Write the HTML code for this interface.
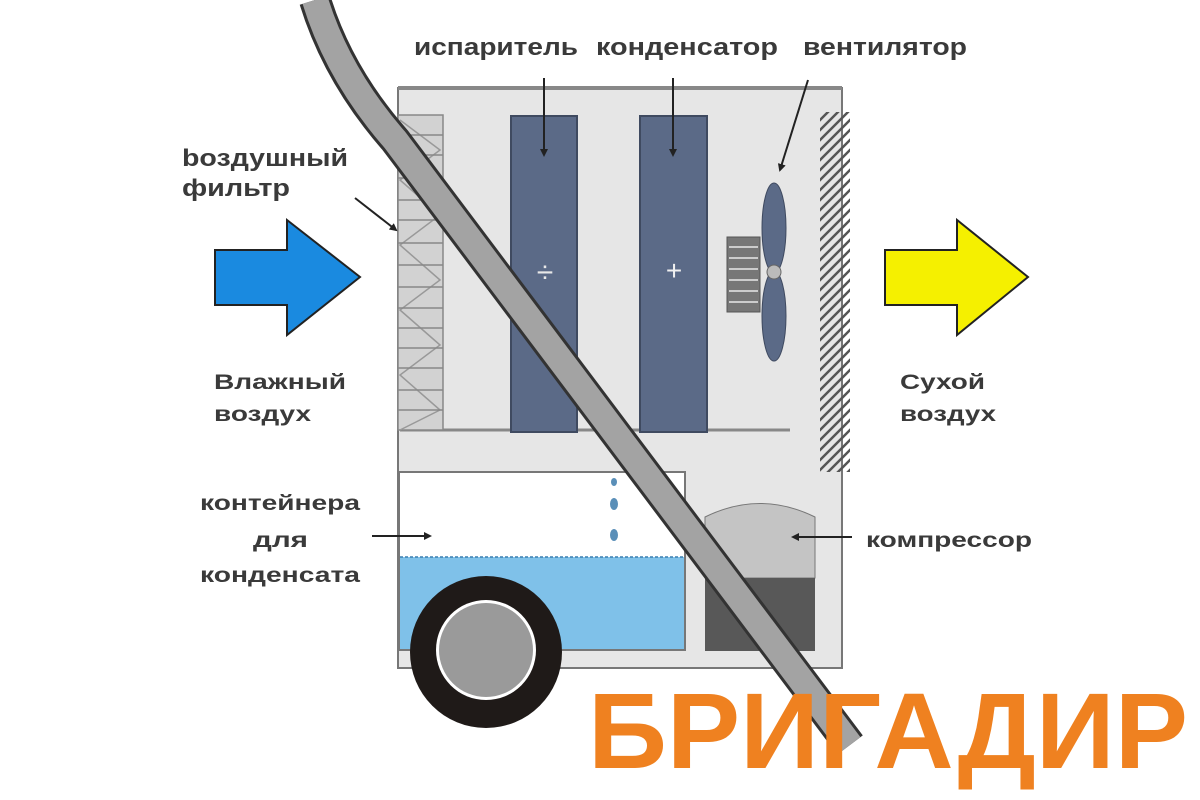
<!DOCTYPE html>
<html><head><meta charset="utf-8"><style>html,body{margin:0;padding:0;background:#fff}svg{display:block}</style></head>
<body>
<svg width="1200" height="800" viewBox="0 0 1200 800" xmlns="http://www.w3.org/2000/svg">
<defs>
<pattern id="hatch" width="10" height="10" patternUnits="userSpaceOnUse">
<path d="M0,10 L10,0 M-2,2 L2,-2 M8,12 L12,8" stroke="#555" stroke-width="2.5"/>
</pattern>
<marker id="ah" markerWidth="8" markerHeight="8" refX="6" refY="4" orient="auto" markerUnits="userSpaceOnUse">
<path d="M0,0 L8,4 L0,8 z" fill="#222"/>
</marker>
</defs>
<rect width="1200" height="800" fill="#fff"/>
<rect x="398" y="88" width="444" height="580" fill="#e6e6e6" stroke="#777" stroke-width="2"/>
<rect x="398" y="86" width="444" height="4" fill="#888"/>
<line x1="400" y1="430" x2="790" y2="430" stroke="#888" stroke-width="3"/>
<rect x="398" y="115" width="45" height="315" fill="#d2d2d2" stroke="#888" stroke-width="1.5"/>
<path d="M400,120 L440,150 L400,180 L440,215 L400,245 L440,280 L400,310 L440,345 L400,375 L440,410 L400,430" fill="none" stroke="#999" stroke-width="1.5"/>
<g stroke="#888" stroke-width="1.5">
<line x1="398" y1="135" x2="443" y2="135"/><line x1="398" y1="155" x2="443" y2="155"/><line x1="398" y1="178" x2="443" y2="178"/><line x1="398" y1="200" x2="443" y2="200"/><line x1="398" y1="220" x2="443" y2="220"/><line x1="398" y1="243" x2="443" y2="243"/><line x1="398" y1="265" x2="443" y2="265"/><line x1="398" y1="287" x2="443" y2="287"/><line x1="398" y1="308" x2="443" y2="308"/><line x1="398" y1="328" x2="443" y2="328"/><line x1="398" y1="348" x2="443" y2="348"/><line x1="398" y1="368" x2="443" y2="368"/><line x1="398" y1="390" x2="443" y2="390"/><line x1="398" y1="410" x2="443" y2="410"/>
</g>
<rect x="511" y="116" width="66" height="316" fill="#5b6a87" stroke="#3f4a60" stroke-width="2"/>
<rect x="640" y="116" width="67" height="316" fill="#5b6a87" stroke="#3f4a60" stroke-width="2"/>
<text x="545" y="282" font-family="Liberation Sans, sans-serif" font-size="30" fill="#e8e8e8" text-anchor="middle">÷</text>
<text x="674" y="280" font-family="Liberation Sans, sans-serif" font-size="28" fill="#f0f0f0" text-anchor="middle">+</text>
<rect x="727" y="237" width="33" height="75" fill="#777" stroke="#555"/>
<g stroke="#ccc" stroke-width="2"><line x1="729" y1="247" x2="758" y2="247"/><line x1="729" y1="258" x2="758" y2="258"/><line x1="729" y1="269" x2="758" y2="269"/><line x1="729" y1="280" x2="758" y2="280"/><line x1="729" y1="291" x2="758" y2="291"/><line x1="729" y1="302" x2="758" y2="302"/></g>
<ellipse cx="774" cy="228" rx="12" ry="45" fill="#5b6a87" stroke="#3f4a60"/>
<ellipse cx="774" cy="316" rx="12" ry="45" fill="#5b6a87" stroke="#3f4a60"/>
<circle cx="774" cy="272" r="7" fill="#bbb" stroke="#666"/>
<rect x="820" y="112" width="30" height="360" fill="url(#hatch)"/>
<rect x="399" y="472" width="286" height="178" fill="#fff" stroke="#777" stroke-width="2"/>
<rect x="400" y="557" width="284" height="92" fill="#7fc1e9"/>
<line x1="400" y1="557" x2="684" y2="557" stroke="#3a7fb0" stroke-width="1.5" stroke-dasharray="3,2"/>
<g fill="#5a8fb8"><ellipse cx="614" cy="482" rx="3" ry="4"/><ellipse cx="614" cy="504" rx="4" ry="6"/><ellipse cx="614" cy="535" rx="4" ry="6"/></g>
<path d="M705,517 Q760,490 815,517 L815,578 L705,578 Z" fill="#c4c4c4" stroke="#777"/>
<rect x="705" y="578" width="110" height="73" fill="#585858"/>
<path d="M315,0 Q338,75 395,140 L850,745" fill="none" stroke="#333" stroke-width="32" stroke-linejoin="round"/>
<path d="M315,0 Q338,75 395,140 L850,745" fill="none" stroke="#a3a3a3" stroke-width="26" stroke-linejoin="round"/>
<circle cx="486" cy="652" r="76" fill="#1f1a18"/>
<circle cx="486" cy="650" r="50" fill="#fff"/>
<circle cx="486" cy="650" r="47" fill="#9a9a9a"/>
<path d="M215,250 L287,250 L287,220 L360,277 L287,335 L287,305 L215,305 Z" fill="#1a8ae0" stroke="#222" stroke-width="2"/>
<path d="M885,250 L957,250 L957,220 L1028,277 L957,335 L957,305 L885,305 Z" fill="#f5f000" stroke="#222" stroke-width="2"/>
<g stroke="#222" stroke-width="2" marker-end="url(#ah)" fill="none">
<line x1="544" y1="78" x2="544" y2="155"/>
<line x1="673" y1="78" x2="673" y2="155"/>
<line x1="808" y1="80" x2="780" y2="170"/>
<line x1="355" y1="198" x2="396" y2="230"/>
<line x1="372" y1="536" x2="430" y2="536"/>
<line x1="852" y1="537" x2="793" y2="537"/>
</g>
<g font-family="Liberation Sans, sans-serif" font-weight="bold" font-size="21" fill="#3a3a3a">
<text x="414" y="55" font-size="24" textLength="164" lengthAdjust="spacingAndGlyphs">испаритель</text>
<text x="596" y="55" font-size="24" textLength="182" lengthAdjust="spacingAndGlyphs">конденсатор</text>
<text x="803" y="55" font-size="24" textLength="164" lengthAdjust="spacingAndGlyphs">вентилятор</text>
<text x="182" y="166" font-size="24" textLength="166" lengthAdjust="spacingAndGlyphs">bоздушный</text>
<text x="182" y="196" font-size="24" textLength="108" lengthAdjust="spacingAndGlyphs">фильтр</text>
<text x="214" y="389" textLength="132" lengthAdjust="spacingAndGlyphs">Влажный</text>
<text x="214" y="421" textLength="97" lengthAdjust="spacingAndGlyphs">воздух</text>
<text x="900" y="389" textLength="85" lengthAdjust="spacingAndGlyphs">Сухой</text>
<text x="900" y="421" textLength="96" lengthAdjust="spacingAndGlyphs">воздух</text>
<text x="200" y="510" textLength="160" lengthAdjust="spacingAndGlyphs">контейнера</text>
<text x="253" y="547" textLength="55" lengthAdjust="spacingAndGlyphs">для</text>
<text x="200" y="582" textLength="160" lengthAdjust="spacingAndGlyphs">конденсата</text>
<text x="866" y="547" textLength="166" lengthAdjust="spacingAndGlyphs">компрессор</text>
</g>
<text x="588" y="768" font-family="Liberation Sans, sans-serif" font-weight="bold" font-size="108" fill="#ef8120" textLength="600" lengthAdjust="spacingAndGlyphs">БРИГАДИР</text>
</svg>
</body></html>
